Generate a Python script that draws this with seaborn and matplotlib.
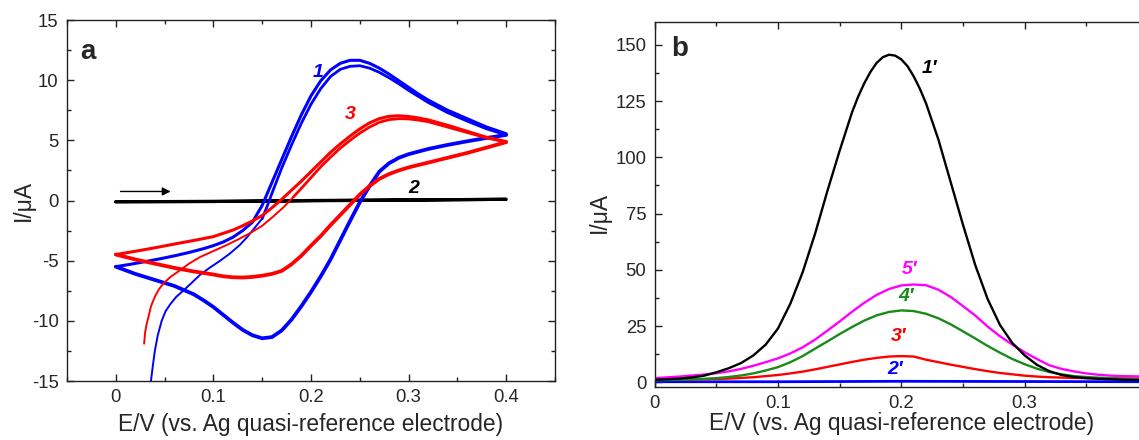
import numpy as np
import pandas as pd
import matplotlib
matplotlib.use("Agg")
import matplotlib.pyplot as plt
import seaborn as sns
from matplotlib.ticker import MultipleLocator

# ---------------- Panel a: cyclic voltammograms ----------------
# curve 1 (blue)
blue_init_E = [0.034, 0.036, 0.038, 0.040, 0.043, 0.047, 0.051, 0.056, 0.062, 0.069, 0.077,
               0.086, 0.096, 0.107, 0.117, 0.127, 0.135, 0.141, 0.146, 0.150]
blue_init_I = [-16.0, -15.0, -13.7, -12.5, -11.2, -10.0, -9.2, -8.6, -8.0, -7.5, -6.9,
               -6.2, -5.6, -5.0, -4.4, -3.7, -3.0, -2.4, -1.9, -1.5]
blue_fwd1_E = [0.150, 0.155, 0.16, 0.17, 0.18, 0.19, 0.20, 0.21, 0.22, 0.23, 0.24, 0.25,
               0.26, 0.27, 0.28, 0.29, 0.30, 0.31, 0.32, 0.34, 0.36, 0.38, 0.40]
blue_fwd1_I = [-1.5, -0.5, 0.6, 2.7, 4.6, 6.4, 8.0, 9.3, 10.3, 10.9, 11.15, 11.2,
               11.0, 10.65, 10.2, 9.7, 9.15, 8.65, 8.15, 7.3, 6.6, 5.95, 5.45]
blue_rev_E = [0.40, 0.39, 0.38, 0.36, 0.34, 0.32, 0.30, 0.29, 0.28, 0.27, 0.26, 0.25, 0.24,
              0.23, 0.22, 0.21, 0.20, 0.19, 0.18, 0.17, 0.16, 0.15, 0.14, 0.13, 0.12, 0.11,
              0.10, 0.09, 0.08, 0.06, 0.04, 0.02, 0.0]
blue_rev_I = [5.45, 5.32, 5.2, 4.92, 4.62, 4.28, 3.85, 3.55, 3.1, 2.4, 1.2, -0.15, -1.7,
              -3.3, -4.9, -6.3, -7.6, -8.8, -9.9, -10.8, -11.35, -11.45, -11.2, -10.75, -10.15, -9.5,
              -8.85, -8.3, -7.8, -7.1, -6.6, -6.1, -5.5]
blue_fwd2_E = [0.0, 0.015, 0.03, 0.045, 0.06, 0.075, 0.09, 0.10, 0.11, 0.12, 0.13, 0.14, 0.15,
               0.16, 0.17, 0.18, 0.19, 0.20, 0.21, 0.22, 0.23, 0.24, 0.25, 0.26, 0.27, 0.28,
               0.29, 0.30, 0.31, 0.32, 0.34, 0.36, 0.38, 0.40]
blue_fwd2_I = [-5.5, -5.3, -5.08, -4.85, -4.6, -4.32, -4.0, -3.75, -3.45, -3.05, -2.5, -1.8, -0.4,
               1.5, 3.4, 5.3, 7.1, 8.7, 9.95, 10.85, 11.4, 11.65, 11.65, 11.4, 11.0, 10.5,
               9.95, 9.4, 8.85, 8.35, 7.5, 6.8, 6.1, 5.55]

# curve 3 (red)
red_init_E = [0.029, 0.030, 0.0315, 0.0334, 0.036, 0.040, 0.044, 0.0488, 0.056, 0.0658,
              0.075, 0.0863, 0.10, 0.1136, 0.125, 0.137, 0.15, 0.161, 0.172, 0.182]
red_init_I = [-11.9, -11.0, -10.3, -9.7, -8.8, -8.0, -7.4, -6.9, -6.35, -5.8,
              -5.25, -4.7, -4.2, -3.7, -3.25, -2.74, -2.1, -1.35, -0.55, 0.3]
red_fwd1_E = [0.182, 0.19, 0.20, 0.21, 0.22, 0.23, 0.24, 0.25, 0.26, 0.27, 0.28, 0.29, 0.30,
              0.31, 0.32, 0.34, 0.36, 0.38, 0.40]
red_fwd1_I = [0.3, 1.0, 1.9, 2.8, 3.6, 4.35, 5.0, 5.6, 6.1, 6.5, 6.72, 6.8, 6.78,
              6.68, 6.55, 6.1, 5.65, 5.2, 4.85]
red_rev_E = [0.40, 0.38, 0.36, 0.34, 0.32, 0.30, 0.29, 0.28, 0.27, 0.26, 0.25, 0.24, 0.23,
             0.22, 0.21, 0.20, 0.19, 0.18, 0.17, 0.16, 0.15, 0.14, 0.13, 0.12, 0.11, 0.10,
             0.08, 0.06, 0.04, 0.02, 0.0]
red_rev_I = [4.85, 4.4, 3.95, 3.55, 3.15, 2.75, 2.5, 2.2, 1.8, 1.2, 0.5, -0.35, -1.2,
             -2.05, -2.95, -3.75, -4.6, -5.3, -5.85, -6.1, -6.25, -6.35, -6.4, -6.38, -6.3, -6.15,
             -5.9, -5.6, -5.25, -4.9, -4.49]
red_fwd2_E = [0.0, 0.02, 0.04, 0.06, 0.08, 0.10, 0.12, 0.13, 0.14, 0.15, 0.16, 0.17, 0.18,
              0.19, 0.20, 0.21, 0.22, 0.23, 0.24, 0.25, 0.26, 0.27, 0.28, 0.29, 0.30, 0.31,
              0.32, 0.34, 0.36, 0.38, 0.40]
red_fwd2_I = [-4.49, -4.22, -3.93, -3.62, -3.32, -3.0, -2.46, -2.1, -1.7, -1.25, -0.6, 0.1, 0.85,
              1.6, 2.4, 3.2, 4.0, 4.7, 5.35, 5.95, 6.45, 6.8, 7.0, 7.04, 6.98, 6.86,
              6.7, 6.25, 5.75, 5.25, 4.9]

# curve 2 (black, blank)
black_cv_E = [0.0, 0.1, 0.2, 0.3, 0.4, 0.3, 0.2, 0.15, 0.1, 0.0]
black_cv_I = [-0.1, -0.08, -0.02, 0.03, 0.1, 0.05, 0.0, -0.05, -0.08, -0.1]

# ---------------- Panel b: DPV ----------------
dpv1_E = [0.0, 0.01, 0.02, 0.03, 0.04, 0.05, 0.06, 0.07, 0.08, 0.09, 0.10, 0.11, 0.12, 0.13,
          0.14, 0.15, 0.16, 0.165, 0.17, 0.175, 0.18, 0.185, 0.19, 0.195, 0.20, 0.205, 0.21,
          0.215, 0.22, 0.23, 0.24, 0.25, 0.26, 0.27, 0.28, 0.29, 0.30, 0.31, 0.32, 0.33,
          0.34, 0.35, 0.36, 0.38, 0.40]
dpv1_I = [1.2, 1.4, 1.7, 2.2, 3.0, 4.5, 6.3, 8.6, 12.0, 16.8, 24.0, 35, 49, 66,
          85, 103, 120, 127, 133, 138, 142, 144.5, 145.6, 145.2, 143.5, 140.5, 136,
          130.5, 124, 108, 89, 70, 52, 37, 25.5, 17.5, 12, 7.8, 5.0, 3.3,
          2.4, 1.9, 1.6, 1.2, 1.0]
dpv2_E = [0.0, 0.1, 0.2, 0.3, 0.40]
dpv2_I = [0.3, 0.3, 0.5, 0.4, 0.3]
dpv3_E = [0.0, 0.02, 0.04, 0.06, 0.08, 0.09, 0.10, 0.11, 0.12, 0.13, 0.14, 0.15, 0.16, 0.17,
          0.18, 0.19, 0.20, 0.21, 0.22, 0.23, 0.24, 0.25, 0.26, 0.27, 0.28, 0.29, 0.30,
          0.31, 0.32, 0.34, 0.36, 0.40]
dpv3_I = [1.1, 1.2, 1.4, 1.7, 2.3, 2.8, 3.3, 4.0, 4.8, 5.8, 6.9, 8.0, 9.1, 10.1,
          10.9, 11.5, 11.7, 11.5, 10.1, 9.0, 7.9, 6.9, 5.9, 5.0, 4.2, 3.6, 3.0,
          2.6, 2.3, 2.0, 1.8, 1.7]
dpv4_E = [0.0, 0.02, 0.04, 0.05, 0.06, 0.07, 0.08, 0.09, 0.10, 0.11, 0.12, 0.13, 0.14, 0.15,
          0.16, 0.17, 0.18, 0.19, 0.20, 0.21, 0.22, 0.23, 0.24, 0.25, 0.26, 0.27, 0.28,
          0.29, 0.30, 0.31, 0.32, 0.33, 0.34, 0.35, 0.36, 0.38, 0.40]
dpv4_I = [1.0, 1.2, 1.6, 1.9, 2.4, 3.1, 4.0, 5.3, 6.8, 9.0, 11.7, 15.0, 18.2, 21.5,
          24.6, 27.5, 29.8, 31.3, 32.0, 31.7, 30.5, 28.5, 25.8, 22.7, 19.5, 16.2, 13.2,
          10.4, 8.1, 6.1, 4.6, 3.6, 2.8, 2.4, 2.1, 1.7, 1.4]
dpv5_E = [0.0, 0.02, 0.04, 0.05, 0.06, 0.07, 0.08, 0.09, 0.10, 0.11, 0.12, 0.13, 0.14, 0.15,
          0.16, 0.17, 0.18, 0.19, 0.20, 0.21, 0.22, 0.23, 0.24, 0.25, 0.26, 0.27, 0.28,
          0.29, 0.30, 0.31, 0.32, 0.33, 0.34, 0.35, 0.36, 0.37, 0.38, 0.40]
dpv5_I = [1.9, 2.6, 3.5, 4.1, 4.9, 6.0, 7.4, 9.0, 10.7, 12.9, 15.6, 19.0, 23.0, 27.1,
          31.4, 35.4, 38.9, 41.5, 43.1, 43.5, 43.2, 41.2, 38.0, 33.9, 29.7, 24.8, 20.5,
          16.8, 13.4, 10.4, 7.6, 6.0, 4.9, 4.0, 3.4, 3.0, 2.8, 2.6]

xlabel_txt = "E/V (vs. Ag quasi-reference electrode)"
ylabel_txt = "I/\u03bcA"

sns.set_style("ticks")
plt.rcParams['font.family'] = ['Liberation Sans', 'DejaVu Sans']
plt.rcParams['axes.linewidth'] = 1.0
plt.rcParams['axes.edgecolor'] = '#222222'

W, H = 1139, 440
fig = plt.figure(figsize=(W / 100, H / 100), dpi=100)
axA = fig.add_axes([67 / W, 1 - 381 / H, (555 - 67) / W, (381 - 20) / H])
axB = fig.add_axes([654.7 / W, 1 - 386.7 / H, (1148 - 654.7) / W, (386.7 - 22.3) / H])


def draw(ax, E, I, color, lw):
    df = pd.DataFrame({"E": E, "I": I})
    sns.lineplot(data=df, x="E", y="I", ax=ax, sort=False, estimator=None,
                 color=color, lw=lw, legend=False)


BLUE, RED, GREEN, MAGENTA = "#0000ff", "#ff0000", "#1a8a1a", "#ff00ff"
# panel a
draw(axA, black_cv_E, black_cv_I, "black", 2.3)
draw(axA, blue_init_E, blue_init_I, BLUE, 1.4)
draw(axA, blue_fwd1_E, blue_fwd1_I, BLUE, 2.0)
draw(axA, blue_rev_E, blue_rev_I, BLUE, 2.7)
draw(axA, blue_fwd2_E, blue_fwd2_I, BLUE, 2.2)
draw(axA, red_init_E, red_init_I, RED, 1.4)
draw(axA, red_fwd1_E, red_fwd1_I, RED, 2.0)
draw(axA, red_rev_E, red_rev_I, RED, 2.7)
draw(axA, red_fwd2_E, red_fwd2_I, RED, 2.2)

axA.annotate("", xy=(0.059, 0.75), xytext=(0.002, 0.75),
             arrowprops=dict(arrowstyle="-|>", color="black", lw=1.0, mutation_scale=12))
axA.set_xlim(-0.05, 0.45)
axA.set_ylim(-15, 15)
axA.xaxis.set_minor_locator(MultipleLocator(0.05))
axA.yaxis.set_minor_locator(MultipleLocator(2.5))
axA.set_xticks([0, 0.1, 0.2, 0.3, 0.4])
axA.set_xticklabels(["0", "0.1", "0.2", "0.3", "0.4"])
axA.set_yticks([-15, -10, -5, 0, 5, 10, 15])
axA.set_yticklabels(["-15", "-10", "-5", "0", "5", "10", "15"])
axA.text(0.043, 0.911, "a", transform=axA.transAxes, fontsize=20, fontweight="bold",
         ha="center", va="center")
axA.text(0.207, 10.6, "1", color=BLUE, fontsize=14, fontweight="bold", style="italic",
         ha="center", va="center")
axA.text(0.240, 7.13, "3", color=RED, fontsize=14, fontweight="bold", style="italic",
         ha="center", va="center")
axA.text(0.305, 1.0, "2", color="black", fontsize=14, fontweight="bold", style="italic",
         ha="center", va="center")

# panel b
draw(axB, dpv2_E, dpv2_I, BLUE, 2.0)
draw(axB, dpv3_E, dpv3_I, RED, 1.7)
draw(axB, dpv4_E, dpv4_I, GREEN, 1.7)
draw(axB, dpv5_E, dpv5_I, MAGENTA, 1.7)
draw(axB, dpv1_E, dpv1_I, "black", 1.7)
axB.set_xlim(0, 0.4)
axB.set_ylim(-1.9, 160)
axB.xaxis.set_minor_locator(MultipleLocator(0.05))
axB.yaxis.set_minor_locator(MultipleLocator(12.5))
axB.set_xticks([0, 0.1, 0.2, 0.3, 0.4])
axB.set_xticklabels(["0", "0.1", "0.2", "0.3", ""])
axB.set_yticks([0, 25, 50, 75, 100, 125, 150])
axB.set_yticklabels(["0", "25", "50", "75", "100", "125", "150"])
axB.text(0.0513, 0.927, "b", transform=axB.transAxes, fontsize=20, fontweight="bold",
         ha="center", va="center")
for txt, x, y, c in [("1\u2032", 0.223, 139.3, "black"), ("5\u2032", 0.2066, 50.1, MAGENTA),
                     ("4\u2032", 0.2036, 38.0, GREEN), ("3\u2032", 0.198, 20.3, RED),
                     ("2\u2032", 0.195, 5.8, BLUE)]:
    axB.text(x, y, txt, color=c, fontsize=14, fontweight="bold", style="italic",
             ha="center", va="center")

for ax in (axA, axB):
    ax.tick_params(which="both", direction="in", top=True, right=True, labelsize=13.3,
                   width=1.0, color="#222222")
    ax.tick_params(which="major", length=5, pad=6)
    ax.tick_params(which="minor", length=3)
    for s in ax.spines.values():
        s.set_visible(True)
    ax.set_xlabel(xlabel_txt, fontsize=16.4)
    ax.set_ylabel(ylabel_txt, fontsize=16.4)

axA.xaxis.set_label_coords(0.5, -0.0886)
axA.yaxis.set_label_coords(-0.0656, 0.5)
axB.xaxis.set_label_coords(0.5, -0.069)
axB.yaxis.set_label_coords(-0.0886, 0.477)

fig.savefig("out.png", dpi=100)
